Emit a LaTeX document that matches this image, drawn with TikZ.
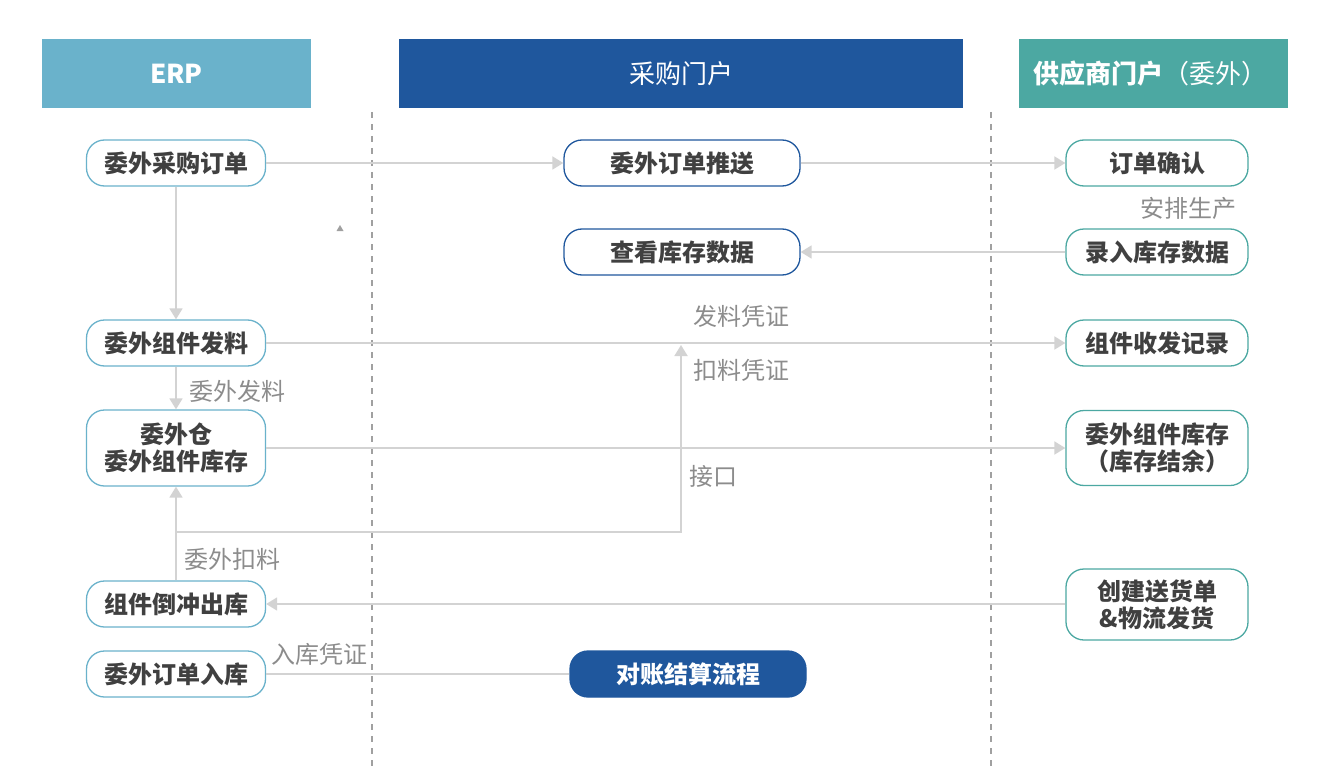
\documentclass[tikz,border=0pt]{standalone}
\usepackage{fontspec}
\setmainfont{Noto Sans CJK SC}
\usetikzlibrary{arrows.meta}
\definecolor{erpc}{HTML}{6AB2CB}
\definecolor{portc}{HTML}{1F579D}
\definecolor{supc}{HTML}{4CA8A2}
\definecolor{txt}{HTML}{404040}
\definecolor{lbl}{HTML}{8C8C8C}
\definecolor{lnc}{HTML}{D3D3D3}
\definecolor{dashc}{HTML}{A0A0A0}
\begin{document}
\begin{tikzpicture}[x=1pt,y=-1pt,
  hdr/.style={minimum height=69pt,inner sep=0pt,text=white,font=\fontsize{26}{30}\selectfont},
  boxbase/.style={draw,line width=1.3pt,fill=white,rounded corners=18pt,minimum height=46pt,
    inner sep=0pt,align=center,text=txt,font=\fontsize{24}{27}\selectfont\bfseries},
  erpbox/.style={boxbase,draw=erpc,minimum width=179pt},
  portbox/.style={boxbase,draw=portc,minimum width=236pt},
  supbox/.style={boxbase,draw=supc,minimum width=182pt},
  lab/.style={text=lbl,inner sep=0pt,font=\fontsize{24}{27}\selectfont},
  conn/.style={draw=lnc,line width=1.8pt,-{Triangle[length=11pt,width=13pt,fill=lnc]}},
  plain/.style={draw=lnc,line width=1.8pt},
  lane/.style={draw=dashc,line width=1.2pt,dash pattern=on 6pt off 6pt}]
\useasboundingbox (0,0) rectangle (1340,778);
% headers
\fill[erpc] (42,39) rectangle (311,108);
\fill[portc] (399,39) rectangle (963,108);
\fill[supc] (1019,39) rectangle (1288,108);
\node[hdr,font=\fontsize{26}{30}\selectfont\bfseries] (h1) at (176.5,73.5) {ERP};
\node[hdr] (h2) at (681,73.5) {采购门户};
\node[hdr] (h3) at (1150,73.5) {\textbf{供应商门户}（委外）};
% lanes
\coordinate (l1a) at (372,112); \coordinate (l1b) at (372,766);
\coordinate (l2a) at (991,112); \coordinate (l2b) at (991,766);
\draw[lane] (l1a) -- (l1b);
\draw[lane] (l2a) -- (l2b);
% ERP nodes
\node[erpbox] (e1) at (176,163) {委外采购订单};
\node[erpbox] (e2) at (176,343) {委外组件发料};
\node[erpbox,minimum height=76pt] (e3) at (176,448) {委外仓\\委外组件库存};
\node[erpbox] (e4) at (176,604) {组件倒冲出库};
\node[erpbox] (e5) at (176,674) {委外订单入库};
% portal nodes
\node[portbox] (p1) at (682,163) {委外订单推送};
\node[portbox] (p2) at (682,252) {查看库存数据};
\node[boxbase,draw=portc,fill=portc,text=white,minimum width=236pt] (p3) at (688,674) {对账结算流程};
% supplier nodes
\node[supbox] (s1) at (1157,163) {订单确认};
\node[supbox] (s2) at (1157,252) {录入库存数据};
\node[supbox] (s3) at (1157,343) {组件收发记录};
\node[supbox,minimum height=75pt] (s4) at (1157,448) {委外组件库存\\（库存结余）};
\node[supbox,minimum height=71pt] (s5) at (1157,604.5) {创建送货单\\\&物流发货};
% labels
\node[lab] (t1) at (1188,208) {安排生产};
\node[lab] (t2) at (741,316) {发料凭证};
\node[lab] (t3) at (741,370) {扣料凭证};
\node[lab] (t4) at (713,476) {接口};
\node[lab] (t5) at (237,391) {委外发料};
\node[lab] (t6) at (232,559) {委外扣料};
\node[lab] (t7) at (319,654) {入库凭证};
% connectors
\draw[conn] (e1.east) -- (p1.west);
\draw[conn] (p1.east) -- (s1.west);
\draw[conn] (s2.west) -- (p2.east);
\draw[conn] (e1.south) -- (e2.north);
\draw[conn] (e2.east) -- (s3.west);
\draw[conn] (e2.south) -- (e3.north);
\draw[conn] (e3.east) -- (s4.west);
\draw[conn] (e4.north) -- (e3.south);
\coordinate (j1) at (176,532);
\coordinate (j2) at (681,345);
\draw[conn] (j1) -| (j2);
\draw[conn] (s5.west |- e4.east) -- (e4.east);
\draw[plain] (p3.west) -- (e5.east);
% small mark
\fill[dashc] (336.5,231) -- (343.5,231) -- (340,225) -- cycle;
\end{tikzpicture}
\end{document}
